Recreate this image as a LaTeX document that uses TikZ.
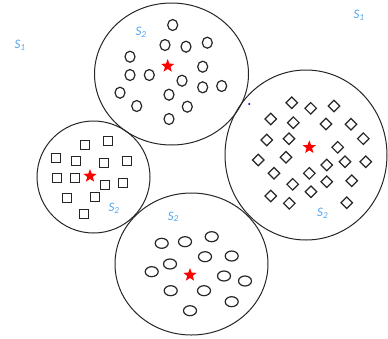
\documentclass[tikz,border=0pt]{standalone}
\usepackage{fontspec}
\setmainfont{Carlito}
\usetikzlibrary{shapes.geometric}
\definecolor{lblue}{RGB}{80,165,240}
\tikzset{
  big/.style={draw=black!85,line width=1pt,ellipse,inner sep=0pt},
  oval/.style={draw=black!85,line width=1.2pt,ellipse,inner sep=0pt,minimum width=#1},
  sq/.style={draw=black!85,line width=1.2pt,rectangle,inner sep=0pt,minimum size=9pt},
  dia/.style={draw=black!85,line width=1.2pt,diamond,inner sep=0pt,minimum width=12pt,minimum height=12pt},
  redstar/.style={star,star points=5,star point ratio=2.4,fill=red,draw=none,inner sep=0pt,minimum size=14pt},
  lbl/.style={text=lblue,font=\fontsize{13}{15}\selectfont\itshape,inner sep=0pt}
}
\begin{document}
\begin{tikzpicture}[x=1pt,y=-1pt]
\useasboundingbox (0,0) rectangle (388,338);
% big circles
\node[big,minimum width=154pt,minimum height=142pt] (top) at (171.5,74) {};
\node[big,minimum width=162pt,minimum height=170pt] (right) at (306,155) {};
\node[big,minimum width=113pt,minimum height=112pt] (left) at (93.5,177) {};
\node[big,minimum width=153pt,minimum height=142pt] (bottom) at (191.5,264) {};
% top circle ovals
\foreach \x/\y [count=\i] in {172.7/25,165/45,186/46.7,207.3/42.7,130/56.7,202.7/66.7,130/75,149.3/75,182/80.7,202.7/87.3,221.7/86,120/92.7,169/94.7,136.7/106,187.3/106.7,169/119}
  \node[oval=10pt,minimum height=11pt] (t\i) at (\x,\y) {};
\node[redstar] (ts) at (167.7,66) {};
\node[lbl] (tl) at (141,32) {S\textsubscript{2}};
% right circle diamonds
\foreach \x/\y [count=\i] in {291.7/102.7,310.7/108.3,334/106,270.7/119,293.3/122.7,326/124,351/124.3,266.7/140,289/138.7,337.7/147.3,363.3/138.7,258.3/160,286/157.3,326.7/165,345/161.7,365.7/161.7,274/173.3,309.3/173.3,292.7/184.3,326.7/181.7,351.7/180.7,270.7/196,311/191.7,289.3/203.3,346.7/202.7}
  \node[dia] (r\i) at (\x,\y) {};
\node[redstar] (rs) at (309.3,147.3) {};
\node[lbl] (rl) at (322.7,213.3) {S\textsubscript{2}};
\fill[blue] (249.3,104) circle (1.1pt);
% left circle squares
\foreach \x/\y [count=\i] in {85/145,108.3/141,56/158.3,76/161,104/163.3,127.3/161,56.7/178.3,75/177.7,105/185,123.3/183.3,66.7/198.3,95/196.7,84/214.3}
  \node[sq] (l\i) at (\x,\y) {};
\node[redstar] (ls) at (90,176) {};
\node[lbl] (ll) at (114,208.3) {S\textsubscript{2}};
% bottom circle ovals
\foreach \x/\y [count=\i] in {161.7/243.3,185/241.7,211.7/236.7,205/256.7,231.7/256,170/264,151.7/271.7,224/276,245/281,170.7/290.7,204/290.7,231.7/301.7,190/310.7}
  \node[oval=13pt,minimum height=10pt] (b\i) at (\x,\y) {};
\node[redstar] (bs) at (190,275) {};
\node[lbl] (bl) at (173.3,216.7) {S\textsubscript{2}};
% S1 labels
\node[lbl] (s1a) at (20,45) {S\textsubscript{1}};
\node[lbl] (s1b) at (359,15) {S\textsubscript{1}};
\end{tikzpicture}
\end{document}
